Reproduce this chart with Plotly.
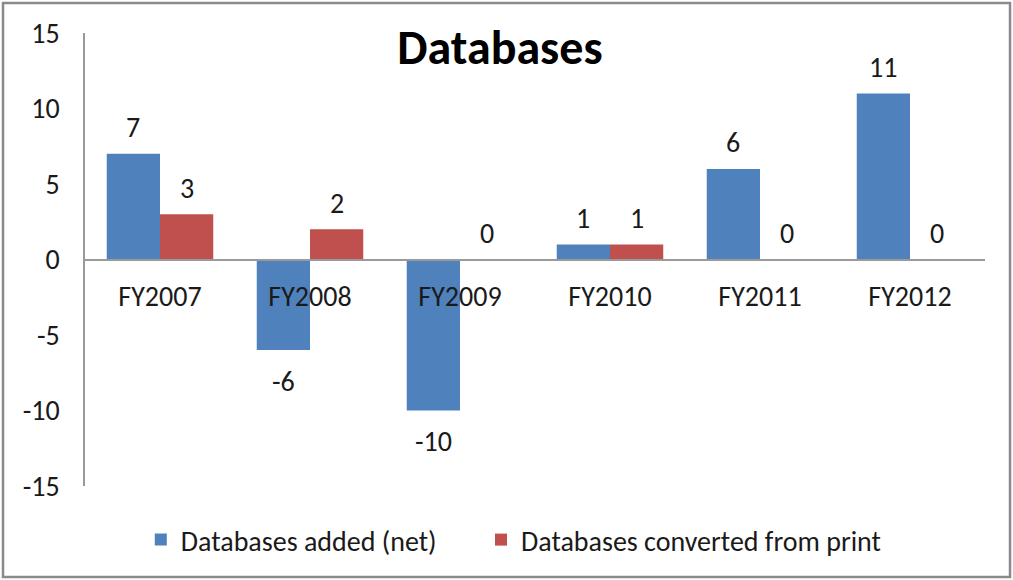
import plotly.graph_objects as go

categories = ["FY2007", "FY2008", "FY2009", "FY2010", "FY2011", "FY2012"]
added_net = [7, -6, -10, 1, 6, 11]
converted_from_print = [3, 2, 0, 1, 0, 0]
y_ticks = [-15, -10, -5, 0, 5, 10, 15]

BLUE = "#4F81BD"
RED = "#C0504D"
FONT = "Calibri, Carlito, Lato, sans-serif"

fig = go.Figure()
fig.add_trace(go.Bar(x=categories, y=added_net, name="Databases added (net)",
                     marker=dict(color=BLUE, line=dict(width=0)), legend="legend"))
fig.add_trace(go.Bar(x=categories, y=converted_from_print, name="Databases converted from print",
                     marker=dict(color=RED, line=dict(width=0)), legend="legend2"))

# data labels, offset from the bar end like Excel does
for series, shift in ((added_net, -27), (converted_from_print, 27)):
    for cat, val in zip(categories, series):
        fig.add_annotation(x=cat, y=val, text=str(val), showarrow=False,
                           xshift=shift, yshift=26 if val >= 0 else -31,
                           font=dict(size=28, color="#1a1a1a", family=FONT))

# chart border
fig.add_shape(type="rect", xref="paper", yref="paper",
              x0=-0.0911, x1=1.0278, y0=-0.2009, y1=1.0662,
              line=dict(color="#8a8a8a", width=2.5), layer="below")

legend_style = dict(orientation="h", xanchor="left", y=-0.119, yanchor="middle",
                    font=dict(size=28, color="#1a1a1a"), itemwidth=30)

fig.update_layout(
    width=1013, height=580,
    margin=dict(l=85, r=28, t=33, b=94, autoexpand=False),
    paper_bgcolor="white", plot_bgcolor="white",
    font=dict(family=FONT, size=28, color="#1a1a1a"),
    title=dict(text="<b>Databases</b>", x=0.461, xref="paper", xanchor="center",
               y=0.918, yref="container", yanchor="middle",
               font=dict(size=48, color="black", family=FONT)),
    barmode="group", bargap=0.29, bargroupgap=0,
    showlegend=True,
    legend=dict(x=0.062, **legend_style),
    legend2=dict(x=0.44, **legend_style),
    xaxis=dict(anchor="free", position=0.5, showline=True, linecolor="#9a9a9a", linewidth=1.5,
               ticks="", showgrid=False, zeroline=False, automargin=False,
               tickfont=dict(size=28, color="#1a1a1a"), ticklabelstandoff=12),
    yaxis=dict(range=[-15, 15], tickvals=y_ticks, ticktext=[str(v) for v in y_ticks],
               showgrid=False, zeroline=False, automargin=False,
               showline=True, linecolor="#9a9a9a", linewidth=1.5, ticks="",
               ticklabelstandoff=18, tickfont=dict(size=28, color="#1a1a1a")),
)

# the page's default body margin would shift the chart by 8px
fig.write_html("out.html", config={"displayModeBar": False},
               post_script="document.body.style.margin='0';")
